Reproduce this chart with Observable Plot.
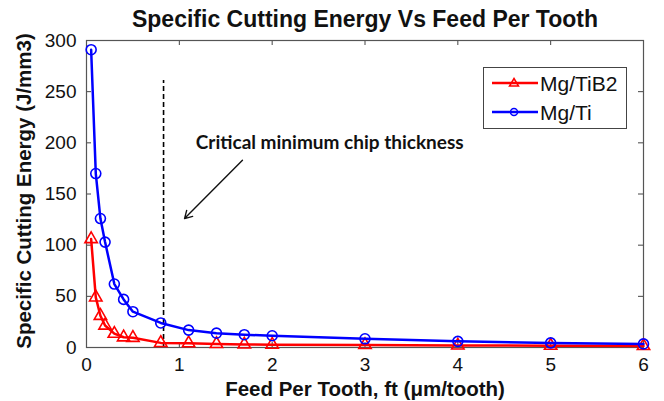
<!DOCTYPE html>
<html>
<head>
<meta charset="utf-8">
<script src="https://cdn.jsdelivr.net/npm/d3@7"></script>
<script src="https://cdn.jsdelivr.net/npm/@observablehq/plot@0.6"></script>
<style>
  html, body { margin: 0; padding: 0; background: #fff; }
  #wrap { position: relative; width: 664px; height: 401px; }
  #legend { position: absolute; left: 483px; top: 67px; }
</style>
</head>
<body>
<div id="wrap"></div>
<script>
// Data
const feed = [0.05, 0.1, 0.15, 0.2, 0.3, 0.4, 0.5, 0.8, 1.1, 1.4, 1.7, 2, 3, 4, 5, 6];
const mgTi = [291, 170, 126, 103, 62, 47, 35, 24, 17, 14, 12.5, 11.5, 8.5, 6, 4.5, 3.5];
const mgTiB2 = [106, 49, 31, 21.5, 13.5, 10, 9.5, 4.5, 4.2, 3.5, 3, 2.8, 2.5, 2, 1.8, 1.5];
const seriesNames = ["Mg/TiB2", "Mg/Ti"];
const seriesColors = ["#ff0000", "#0000ff"];
const xTicks = [0, 1, 2, 3, 4, 5, 6];
const yTicks = [0, 50, 100, 150, 200, 250, 300];
const criticalFeed = 0.83;
const criticalTop = 261;
const titleText = "Specific Cutting Energy Vs Feed Per Tooth";
const xLabel = "Feed Per Tooth, ft (\u03bcm/tooth)";
const yLabel = "Specific Cutting Energy (J/mm3)";
const noteText = "Critical minimum chip thickness";
const notePos = {x: 2.62, y: 200};
const arrowFrom = {x: 1.68, y: 183};
const arrowTo = {x: 1.056, y: 126};

const rowsTi = feed.map((f, i) => ({f, v: mgTi[i]}));
const rowsTiB2 = feed.map((f, i) => ({f, v: mgTiB2[i]}));

const W = 664, H = 401;
const mt = 40, mb = 54, ml = 86, mr = 21;
const fh = H - mt - mb, fw = W - ml - mr;
const font = "'Liberation Sans', Arial, sans-serif";

const chart = Plot.plot({
  width: W, height: H,
  marginTop: mt, marginBottom: mb, marginLeft: ml, marginRight: mr,
  style: {fontFamily: font, background: "#fff", overflow: "visible"},
  x: {domain: [0, 6]},
  y: {domain: [0, 300]},
  marks: [
    // inward ticks on all four sides
    Plot.tickX(xTicks, {x: d => d, insetTop: fh - 5, stroke: "#444"}),
    Plot.tickX(xTicks, {x: d => d, insetBottom: fh - 5, stroke: "#444"}),
    Plot.tickY(yTicks, {y: d => d, insetRight: fw - 5, stroke: "#444"}),
    Plot.tickY(yTicks, {y: d => d, insetLeft: fw - 5, stroke: "#444"}),
    Plot.axisX(xTicks, {anchor: "bottom", tickSize: 0, tickPadding: 10, fontSize: 19, label: null, fill: "#111"}),
    Plot.axisY(yTicks, {anchor: "left", tickSize: 0, tickPadding: 10, fontSize: 19, label: null, fill: "#111"}),
    Plot.frame({stroke: "#555", strokeWidth: 1.2}),
    // critical line
    Plot.ruleX([criticalFeed], {y1: 0, y2: criticalTop, stroke: "#000", strokeWidth: 1.6, strokeDasharray: "5,3"}),
    // series
    Plot.line(rowsTiB2, {x: "f", y: "v", stroke: seriesColors[0], strokeWidth: 2.5}),
    Plot.dot(rowsTiB2, {x: "f", y: "v", symbol: "triangle", r: 4.6, stroke: seriesColors[0], strokeWidth: 1.6, fill: "none"}),
    Plot.line(rowsTi, {x: "f", y: "v", stroke: seriesColors[1], strokeWidth: 2.5}),
    Plot.dot(rowsTi, {x: "f", y: "v", symbol: "circle", r: 5, stroke: seriesColors[1], strokeWidth: 1.6, fill: "none"}),
    // annotation
    Plot.text([noteText], {x: notePos.x, y: notePos.y, text: d => d, fontFamily: "Lato, 'Open Sans', sans-serif", fontWeight: "bold", fontSize: 19, fill: "#111"}),
    Plot.arrow([0], {x1: arrowFrom.x, y1: arrowFrom.y, x2: arrowTo.x, y2: arrowTo.y, stroke: "#111", strokeWidth: 1.4, headLength: 9}),
    // title & labels
    Plot.text([titleText], {frameAnchor: "top", dy: -21, lineAnchor: "middle", text: d => d, fontSize: 23, fontWeight: "bold", fill: "#111"}),
    Plot.text([xLabel], {frameAnchor: "bottom", dy: 42, lineAnchor: "middle", text: d => d, fontSize: 20.5, fontWeight: "bold", fill: "#111"}),
    Plot.text([yLabel], {frameAnchor: "left", dx: -62, dy: -3, rotate: -90, textAnchor: "middle", lineAnchor: "middle", text: d => d, fontSize: 20.5, fontWeight: "bold", fill: "#111"})
  ]
});
document.getElementById("wrap").appendChild(chart);

// Legend
const leg = document.createElement("div");
leg.id = "legend";
const lw = 144, lh = 62;
let svg = `<svg width="${lw}" height="${lh}" xmlns="http://www.w3.org/2000/svg" style="font-family:${font}">`;
svg += `<rect x="0.5" y="0.5" width="${lw-1}" height="${lh-1}" fill="#fff" stroke="#444" stroke-width="1"/>`;
const rowsY = [16, 45];
seriesNames.forEach((name, i) => {
  const y = rowsY[i];
  svg += `<line x1="9" x2="55" y1="${y}" y2="${y}" stroke="${seriesColors[i]}" stroke-width="2.5"/>`;
  if (i === 0) {
    svg += `<path d="M31,${y-4.5} L35.5,${y+3} L26.5,${y+3} Z" fill="none" stroke="${seriesColors[i]}" stroke-width="1.5"/>`;
  } else {
    svg += `<circle cx="31" cy="${y}" r="3.5" fill="none" stroke="${seriesColors[i]}" stroke-width="1.5"/>`;
  }
  svg += `<text x="57" y="${y}" dy="0.36em" font-size="21" fill="#111">${name}</text>`;
});
svg += `</svg>`;
leg.innerHTML = svg;
document.getElementById("wrap").appendChild(leg);
</script>
</body>
</html>
